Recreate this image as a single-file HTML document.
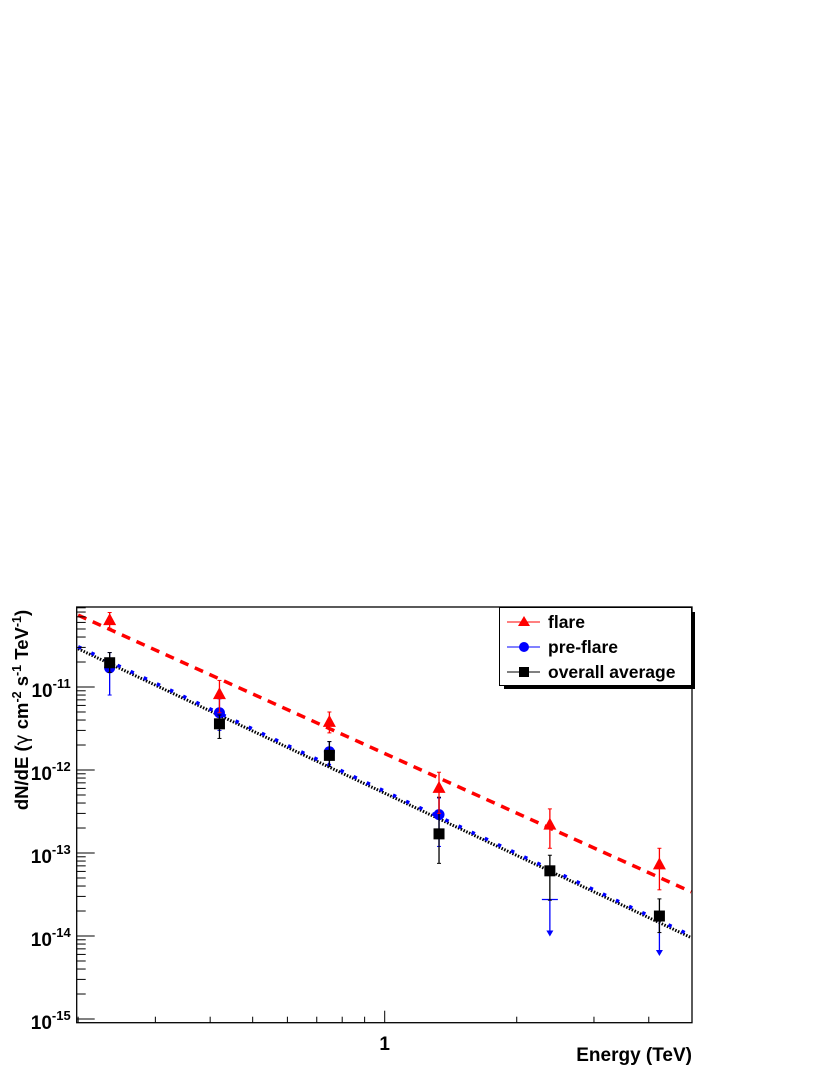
<!DOCTYPE html>
<html><head><meta charset="utf-8"><style>
html,body{margin:0;padding:0;background:#fff;}
svg{display:block;font-family:"Liberation Sans",sans-serif;}
</style></head><body>
<svg id="c" width="830" height="1075" viewBox="0 0 830 1075">
<g id="fits"></g><g id="pts"></g><g id="axes"></g>
<g>
<rect x="504" y="612" width="191" height="77" fill="#000"/>
<rect x="499.5" y="607.5" width="192" height="78" fill="#fff" stroke="#000" stroke-width="1"/>
<g>
<line x1="507" y1="622" x2="540" y2="622" stroke="#f00" stroke-width="1"/>
<polygon points="524,616 530,626 518,626" fill="#f00"/>
<text x="548" y="628" font-size="17.5" font-weight="bold">flare</text></g>
<g>
<line x1="507" y1="647" x2="540" y2="647" stroke="#00f" stroke-width="1"/>
<circle cx="524" cy="647" r="5" fill="#00f"/>
<text x="548" y="653" font-size="17.5" font-weight="bold">pre-flare</text></g>
<g>
<line x1="507" y1="672" x2="540" y2="672" stroke="#000" stroke-width="1"/>
<rect x="519" y="667" width="10" height="10" fill="#000"/>
<text x="548" y="678" font-size="17.5" font-weight="bold">overall average</text></g>
</g>
<text x="692" y="1061" text-anchor="end" font-size="19" font-weight="bold">Energy (TeV)</text>
<text transform="translate(28,710) rotate(-90)" text-anchor="middle" font-size="18.5" font-weight="bold">dN/dE (<tspan font-family="DejaVu Sans" font-weight="normal">γ</tspan> cm<tspan dy="-7" font-size="12.5">-2</tspan><tspan dy="7"> s</tspan><tspan dy="-7" font-size="12.5">-1</tspan><tspan dy="7"> TeV</tspan><tspan dy="-7" font-size="12.5">-1</tspan><tspan dy="7">)</tspan></text>
</svg>
<script>
const energies=[0.236,0.42,0.748,1.33,2.38,4.23];
const flareVals=[6.4e-11,8.2e-12,3.8e-12,6.1e-13,2.2e-13,7.3e-14];
const flareHi=[7.9e-11,1.2e-11,5.0e-12,9.4e-13,3.4e-13,1.14e-13];
const flareLo=[5.1e-11,4.9e-12,2.8e-12,3.0e-13,1.14e-13,3.6e-14];
const preVals=[1.7e-11,4.9e-12,1.66e-12,2.9e-13,null,null];
const preHi=[2.6e-11,7.2e-12,2.2e-12,4.6e-13,null,null];
const preLo=[8e-12,3.0e-12,1.1e-12,1.2e-13,null,null];
const preUL=[null,null,null,null,2.75e-14,1.6e-14];
const avgVals=[1.96e-11,3.6e-12,1.5e-12,1.7e-13,6.1e-14,1.74e-14];
const avgHi=[2.6e-11,4.6e-12,2.2e-12,4.7e-13,9.4e-14,2.8e-14];
const avgLo=[1.5e-11,2.4e-12,1.1e-12,7.5e-14,2.7e-14,1.1e-14];
const fitNorm=[1.58e-12,5.4e-13];
const fitIndex=[2.385,2.49];
const yTickLabels=["-11","-12","-13","-14","-15"];
const xRange=[0.2,5];
const NS="http://www.w3.org/2000/svg";
const L=76.7,R=692,T=607,B=1022.7;
function X(e){return 384.7+438.6*Math.log10(e);}
function Y(v){return 687-83*(Math.log10(v)+11);}
function mk(p,tag,at){const e=document.createElementNS(NS,tag);for(const k in at)e.setAttribute(k,at[k]);p.appendChild(e);return e;}
const fits=document.getElementById('fits'),pts=document.getElementById('pts'),axes=document.getElementById('axes');
function fit(i,col,dash,w,off,name){
 const f=e=>fitNorm[i]*Math.pow(e,-fitIndex[i]);
 const l=mk(fits,'line',{x1:X(xRange[0]),y1:Y(f(xRange[0]))+off,x2:X(xRange[1]),y2:Y(f(xRange[1]))+off,stroke:col,'stroke-width':w,'stroke-dasharray':dash});
 
 
}
fit(0,'#f00','9 7',3.5,0,'fit-flare');
fit(1,'#000','1.5 1.5',3,1,'fit-overall-average');
fit(1,'#00f','3.5 11',3.5,-1,'fit-pre-flare');
function err(x,hi,lo,col,cap){
 mk(pts,'line',{x1:x,y1:Y(hi),x2:x,y2:Y(lo),stroke:col,'stroke-width':1.3});
 if(cap){mk(pts,'line',{x1:x-2,y1:Y(hi),x2:x+2,y2:Y(hi),stroke:col,'stroke-width':1});mk(pts,'line',{x1:x-2,y1:Y(lo),x2:x+2,y2:Y(lo),stroke:col,'stroke-width':1});}
}
energies.forEach((e,i)=>{
 const x=X(e);
 if(preVals[i]!=null){err(x,preHi[i],preLo[i],'#00f',true);
  const c=mk(pts,'circle',{cx:x,cy:Y(preVals[i]),r:5.5,fill:'#00f'});
  
  
 } else {
  const y=Y(preUL[i]),y2=y+36;
  const g=mk(pts,'g',{});
  
  
  if(i===4)mk(g,'line',{x1:x-8,y1:y,x2:x+8,y2:y,stroke:'#00f','stroke-width':1.3});
  mk(g,'line',{x1:x,y1:y,x2:x,y2:y2-4,stroke:'#00f','stroke-width':1.3});
  mk(g,'polygon',{points:`${x-3.5},${y2-5} ${x+3.5},${y2-5} ${x},${y2+1}`,fill:'#00f'});
 }
 err(x,avgHi[i],avgLo[i],'#000',true);
 const s=mk(pts,'rect',{x:x-5.5,y:Y(avgVals[i])-5.5,width:11,height:11,fill:'#000'});
 
 
 err(x,flareHi[i],flareLo[i],'#f00',true);
 const y=Y(flareVals[i]);
 const t=mk(pts,'polygon',{points:`${x},${y-7} ${x+6.5},${y+5} ${x-6.5},${y+5}`,fill:'#f00'});
 
 
});
const fr=mk(axes,'rect',{x:L,y:T,width:R-L,height:B-T,fill:'none',stroke:'#000','stroke-width':1.3});


for(let d=-15;d<=-11;d++){
 for(let m=1;m<10;m++){const v=m*Math.pow(10,d);const y=Y(v);if(y<T||y>B)continue;
  mk(axes,'line',{x1:L,y1:y,x2:L+(m===1?18:9),y2:y,stroke:'#000','stroke-width':1});}
}
yTickLabels.forEach(s=>{
 const y=Y(Math.pow(10,+s));
 const t=mk(axes,'text',{x:L-6,y:y+10,'text-anchor':'end','font-size':19,'font-weight':'bold'});
 
 
 t.innerHTML=`10<tspan dy="-9" font-size="13">${s}</tspan>`;
});
[0.2,0.3,0.4,0.5,0.6,0.7,0.8,0.9,1,2,3,4,5].forEach(v=>{const x=X(v);if(x<=L+1||x>=R-1)return;
 mk(axes,'line',{x1:x,y1:B,x2:x,y2:B-(v===1?12:6),stroke:'#000','stroke-width':1});});
const xl=mk(axes,'text',{x:X(1),y:1050,'text-anchor':'middle','font-size':19,'font-weight':'bold'});


xl.textContent='1';
</script>
</body></html>
